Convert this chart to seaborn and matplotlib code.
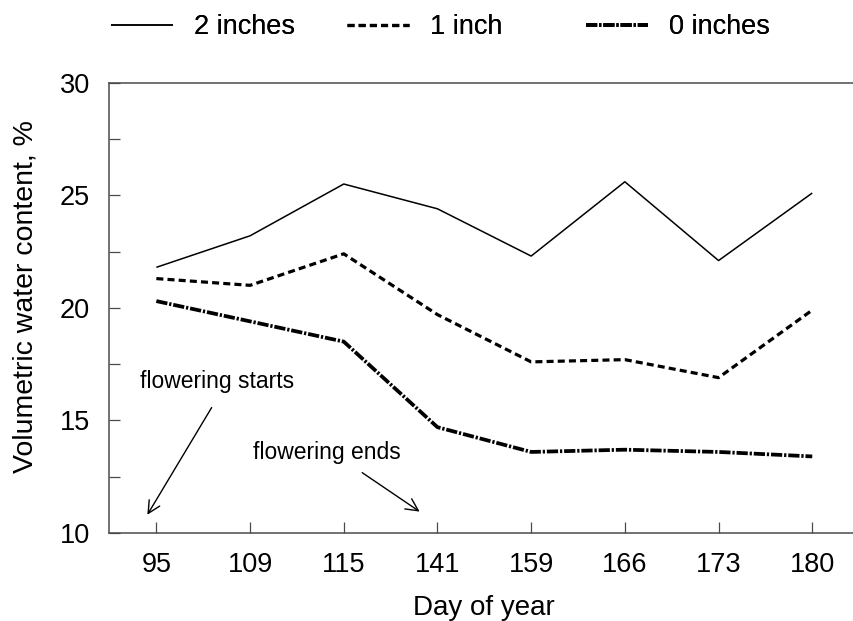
import matplotlib
matplotlib.use("Agg")
import matplotlib.pyplot as plt
import seaborn as sns
import pandas as pd
import numpy as np
from matplotlib.ticker import MultipleLocator

days = ["95", "109", "115", "141", "159", "166", "173", "180"]
two_inches = [21.8, 23.2, 25.5, 24.4, 22.3, 25.6, 22.1, 25.1]
one_inch = [21.3, 21.0, 22.4, 19.7, 17.6, 17.7, 16.9, 19.9]
zero_inches = [20.3, 19.4, 18.5, 14.7, 13.6, 13.7, 13.6, 13.4]
series_names = ["2 inches", "1 inch", "0 inches"]

df = pd.concat([
    pd.DataFrame({"day": days, "vwc": v, "depth": n})
    for v, n in zip([two_inches, one_inch, zero_inches], series_names)
], ignore_index=True)

sns.set_theme(style="white")
plt.rcParams["font.family"] = ["Liberation Sans", "DejaVu Sans"]
plt.rcParams["text.color"] = "black"
plt.rcParams["axes.labelcolor"] = "black"

fig = plt.figure(figsize=(8.54, 6.21), dpi=100)
ax = fig.add_axes([109.5 / 854, 88 / 621, 749.6 / 854, 450.3 / 621])

styles = {
    "2 inches": dict(lw=1.1, dashes=None),
    "1 inch": dict(lw=2.3, dashes=(2.2, 1.3)),
    "0 inches": dict(lw=2.7, dashes=(3.0, 0.5, 0.6, 0.5)),
}
handles = []
for name in series_names:
    sub = df[df["depth"] == name]
    sns.lineplot(data=sub, x="day", y="vwc", ax=ax, color="black",
                 lw=styles[name]["lw"], label=name, sort=False)
    ln = ax.lines[-1]
    if styles[name]["dashes"] is not None:
        ln.set_dashes(styles[name]["dashes"])
    ln.set_solid_capstyle("butt")
    ln.set_dash_capstyle("butt")
    handles.append(ln)

ax.set_xlim(-0.5, 7.5)
ax.set_ylim(10, 30)
ax.yaxis.set_major_locator(MultipleLocator(5))
ax.yaxis.set_minor_locator(MultipleLocator(2.5))

spine_color = "#4a4a4a"
for s in ["left", "bottom", "top", "right"]:
    ax.spines[s].set_color(spine_color)
    ax.spines[s].set_linewidth(1.1)
ax.spines["right"].set_visible(False)

ax.tick_params(axis="both", which="both", direction="in", length=8,
               width=0.9, color=spine_color, labelsize=19.5, labelcolor="black")
ax.tick_params(axis="y", which="major", pad=14, left=True)
ax.tick_params(axis="y", which="minor", left=True)
ax.tick_params(axis="x", which="major", pad=14, bottom=True)
ax.tick_params(axis="x", which="minor", bottom=False)

ax.set_xlabel("Day of year", fontsize=20, color="black")
ax.set_ylabel("Volumetric water content, %", fontsize=20.5, color="black")
ax.xaxis.set_label_coords(0.5, -75 / 450.3, transform=ax.transAxes)
ax.yaxis.set_label_coords(-84 / 749.6, (533 - 297) / 450.3, transform=ax.transAxes)
ax.xaxis.label.set_va("center")
ax.yaxis.label.set_va("center")

# annotations
ax.text(0.647, 16.75, "flowering starts", fontsize=16.5, ha="center", va="center", color="black")
ax.text(1.82, 13.57, "flowering ends", fontsize=16.5, ha="center", va="center", color="black")
arrow = dict(arrowstyle="->", color="black", lw=1.0, mutation_scale=22,
             shrinkA=0, shrinkB=0)
ax.annotate("", xy=(-0.096, 10.81), xytext=(0.59, 15.57), arrowprops=arrow)
ax.annotate("", xy=(2.81, 10.95), xytext=(2.197, 12.68), arrowprops=arrow)

if ax.get_legend() is not None:
    ax.get_legend().remove()

legend_x = [111 / 854, 347 / 854, 586 / 854]
for h, name, lx in zip(handles, series_names, legend_x):
    leg = fig.legend([h], [name], loc="center left", bbox_to_anchor=(lx, 1 - 27 / 621),
                     frameon=False, fontsize=19.5, handlelength=2.3,
                     handletextpad=0.75, borderaxespad=0, borderpad=0)
    for t in leg.get_texts():
        t.set_color("black")
    fig.add_artist(leg)

fig.savefig("out.png", dpi=100)
